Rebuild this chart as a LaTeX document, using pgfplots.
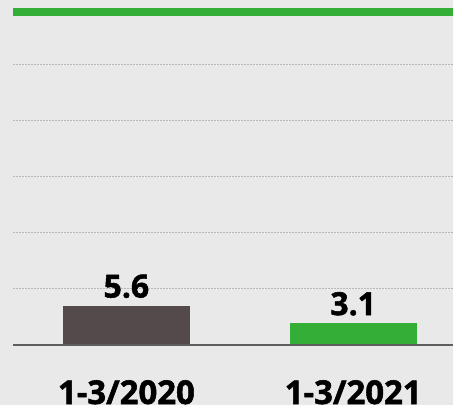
\documentclass[border=0pt]{standalone}
\usepackage{fontspec}
\setmainfont{Open Sans}[BoldFeatures={FakeBold=1.6}]
\usepackage{pgfplots}
\pgfplotsset{compat=1.18}
\definecolor{bgcol}{HTML}{E9E9E9}
\definecolor{barbrown}{HTML}{544A4B}
\definecolor{bargreen}{HTML}{34AE36}
\definecolor{gridgray}{HTML}{B8B8B8}
\definecolor{basegray}{HTML}{5E5E5E}

\begin{document}
\begin{tikzpicture}
\path[use as bounding box] (0,0) rectangle (453bp,405bp);
\clip (0,0) rectangle (453bp,405bp);
\fill[bgcol] (0,0) rectangle (453bp,405bp);
\begin{axis}[
    at={(13bp,60bp)}, anchor=south west,
    scale only axis, width=440bp, height=333bp,
    xmin=-0.5, xmax=1.44, ymin=0, ymax=47.4,
    clip=false,
    axis line style={draw=none},
    xtick={0,1}, xticklabels={1-3/2020,1-3/2021},
    ytick={8,16,24,32,40}, yticklabels={},
    major tick length=0pt,
    ymajorgrids,
    grid style={gridgray, line width=0.9bp, dash pattern=on 2bp off 1bp},
    xticklabel style={font=\fontsize{33}{33}\selectfont\bfseries, anchor=base, yshift=-59bp, inner sep=0pt},
    bar width=0.56,
    /pgf/number format/assume math mode=true,
    nodes near coords,
    nodes near coords style={font=\fontsize{32}{32}\selectfont\bfseries, anchor=south, inner sep=0pt, yshift=7.5bp, text=black},
]
\addplot[ybar, bar shift=0pt, fill=barbrown, draw=none] coordinates {(0,5.6)};
\addplot[ybar, bar shift=0pt, fill=bargreen, draw=none] coordinates {(1,3.1)};
\draw[basegray, line width=1.3bp] (rel axis cs:0,0) -- (rel axis cs:1,0);
\draw[bargreen, line width=8.7bp] (rel axis cs:0,1) -- (rel axis cs:1,1);
\end{axis}
\end{tikzpicture}
\end{document}
